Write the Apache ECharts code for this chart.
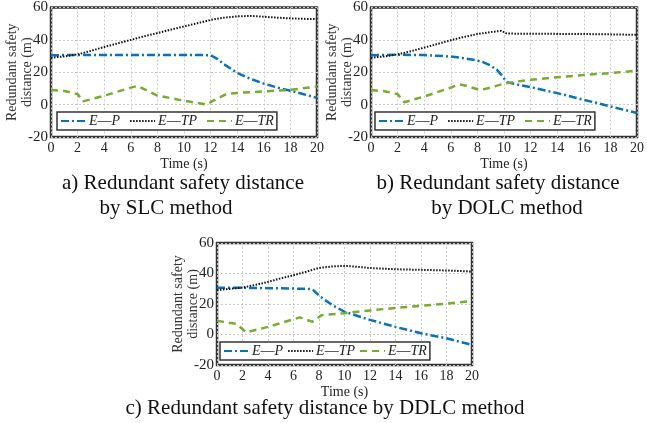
<!DOCTYPE html>
<html><head><meta charset="utf-8">
<script src="https://cdn.jsdelivr.net/npm/echarts@6/dist/echarts.min.js"></script>
<style>html,body{margin:0;padding:0;background:#fff}#c{width:647px;height:423px}</style>
</head><body><div id="c"></div>
<script>
// ---- data ----
const yTicks = [-20, 0, 20, 40, 60];
const xTicks = [0, 2, 4, 6, 8, 10, 12, 14, 16, 18, 20];
const seriesNames = ['E—P', 'E—TP', 'E—TR'];
const captions = ['a) Redundant safety distance', 'by SLC method', 'b) Redundant safety distance', 'by DOLC method', 'c) Redundant safety distance by DDLC method'];

// a) SLC
const slcP_t  = [0,2,4,6,8,10,11,12,12.5,13,14,15,16,17,18,19,20];
const slcP_v  = [30.5,30.7,30.7,30.7,30.7,30.7,30.7,30.5,28.3,25,19.6,15.9,13,10.6,8.6,6.4,4.2];
const slcTP_t = [0,1,2,3,4,5,6,7,8,9,10,11,12,13,14,15,16,17,18,19,20];
const slcTP_v = [29,29.8,31,33.2,35.6,37.8,40,42.2,44.2,46.3,48.3,50.3,52.3,53.7,54.5,54.8,54.3,53.7,53.3,53,52.8];
const slcTR_t = [0,1,2,2.4,4,6,6.5,8,9.5,11.7,12,13.2,14,16,18,20];
const slcTR_v = [9,8.4,6.5,2,5.5,10.5,11.5,5.6,3.2,0,1.5,6.7,7.2,8.2,9.1,11.2];

// b) DOLC
const dolcP_t  = [0,2,4,6,7,8,8.5,9,9.5,9.8,10.2,11,12,14,16,18,20];
const dolcP_v  = [30.5,30.8,30.6,29.7,28.7,27.2,26,24.1,21.2,18.5,13.9,12.4,10.8,7.1,3,-1.1,-5.2];
const dolcTP_t = [0,1,2,3,4,5,6,7,8,9,9.8,10.2,11,12,14,16,18,20];
const dolcTP_v = [29,29.8,31,33,35.2,37.5,39.8,41.8,43.6,44.8,45.6,44,43.8,43.8,43.7,43.6,43.4,43.1];
const dolcTR_t = [0,1,2,2.5,4,6,6.6,7,8.2,9,10,11,12,14,16,18,20];
const dolcTR_v = [9,8.3,6.5,1.5,5,10.5,12.5,12,9,10.5,13,14.3,15.3,16.9,18.3,19.5,21];

// c) DDLC
const ddlcP_t  = [0,2,4,6,7,7.5,8,9,10,12,14,16,18,20];
const ddlcP_v  = [30.6,30.6,30.4,30.1,30,29.6,25.5,19.5,14.9,9.6,5,0.8,-2.5,-6.8];
const ddlcTP_t = [0,2,3,4,5,6,7,8,9,10,11,12,14,16,18,20];
const ddlcTP_v = [29.1,30.8,32.5,34.5,36.8,38.9,41.2,43.6,44.6,45,44.4,43.6,42.8,42.4,42,41.3];
const ddlcTR_t = [0,1.5,2.3,4,6,6.5,7.5,8.2,10,12,14,16,18,20];
const ddlcTR_v = [9,7,1.4,5,10,11.2,8.3,12.7,14,15.8,17.4,18.8,20.2,21.9];

// ---- chart ----
const FONT = 'Liberation Serif';
const pair = (t, v) => t.map((x, i) => [x, v[i]]);
const styles = [
  {color: '#0a72bd', width: 2.5, type: [8, 3, 2, 3]},
  {color: '#111111', width: 2, type: [1.5, 1.5]},
  {color: '#77ac30', width: 2.5, type: [7, 5]}
];
const panels = [
  {grid: {left: 51, top: 7, width: 266, height: 130}, data: [pair(slcP_t, slcP_v), pair(slcTP_t, slcTP_v), pair(slcTR_t, slcTR_v)], legend: {left: 57, top: 112, itemGap: 9}},
  {grid: {left: 371, top: 7, width: 266, height: 130}, data: [pair(dolcP_t, dolcP_v), pair(dolcTP_t, dolcTP_v), pair(dolcTR_t, dolcTR_v)], legend: {left: 375, top: 112, itemGap: 9}},
  {grid: {left: 217, top: 243, width: 255, height: 122}, data: [pair(ddlcP_t, ddlcP_v), pair(ddlcTP_t, ddlcTP_v), pair(ddlcTR_t, ddlcTR_v)], legend: {left: 220, top: 342, itemGap: 4}}
];

const grid = [], xAxis = [], yAxis = [], series = [], legend = [];
panels.forEach((p, k) => {
  grid.push(Object.assign({show: true, borderColor: '#333', borderWidth: 2.5, backgroundColor: 'transparent'}, p.grid));
  xAxis.push({
    gridIndex: k, type: 'value', min: xTicks[0], max: xTicks[xTicks.length - 1], interval: xTicks[1] - xTicks[0],
    axisLine: {show: false}, axisTick: {show: false},
    axisLabel: {fontFamily: FONT, fontSize: 14, color: '#222', margin: 4},
    splitLine: {lineStyle: {color: '#c8c8c8', type: [2, 2], width: 1}},
    name: 'Time (s)', nameLocation: 'middle', nameGap: 20, nameMoveOverlap: false,
    nameTextStyle: {fontFamily: FONT, fontSize: 14, color: '#222'}
  });
  yAxis.push({
    gridIndex: k, type: 'value', min: yTicks[0], max: yTicks[yTicks.length - 1], interval: yTicks[1] - yTicks[0],
    axisLine: {show: false}, axisTick: {show: false},
    axisLabel: {fontFamily: FONT, fontSize: 15, color: '#222', margin: 3},
    splitLine: {lineStyle: {color: '#c8c8c8', type: [2, 2], width: 1}},
    name: 'Redundant safety\ndistance (m)', nameLocation: 'middle', nameGap: 16, nameRotate: 90, nameMoveOverlap: false,
    nameTextStyle: {fontFamily: FONT, fontSize: 14, color: '#333', lineHeight: 15}
  });
  p.data.forEach((d, j) => {
    series.push({
      type: 'line', name: seriesNames[j], xAxisIndex: k, yAxisIndex: k, data: d,
      showSymbol: false, symbol: 'none', lineStyle: styles[j], itemStyle: {color: styles[j].color},
      animation: false, z: 2 + j
    });
  });
  legend.push(Object.assign({
    data: seriesNames, orient: 'horizontal', backgroundColor: '#fff', borderColor: '#333', borderWidth: 1.5,
    padding: [2, 3], itemWidth: 25, itemHeight: 14, selectedMode: false,
    itemStyle: {opacity: 0},
    formatter: n => '{i|' + n.split('—')[0] + '}—{i|' + n.split('—')[1] + '}',
    textStyle: {fontFamily: FONT, fontSize: 14, color: '#222', padding: [0, 0, 0, -2], rich: {i: {fontFamily: FONT, fontSize: 14, fontStyle: 'italic', color: '#222'}}}
  }, p.legend));
});

const capText = (text, x, y) => ({type: 'text', x: x, y: y, style: {text: text, font: '21px ' + FONT, fill: '#111', textAlign: 'center', textVerticalAlign: 'middle'}});
const graphic = [
  capText(captions[0], 183, 183), capText(captions[1], 166, 208),
  capText(captions[2], 498, 183), capText(captions[3], 507, 208),
  capText(captions[4], 325, 408)
];

const chart = echarts.init(document.getElementById('c'), null, {renderer: 'canvas'});
chart.setOption({animation: false, backgroundColor: '#fff', grid, xAxis, yAxis, series, legend, graphic});
</script></body></html>
